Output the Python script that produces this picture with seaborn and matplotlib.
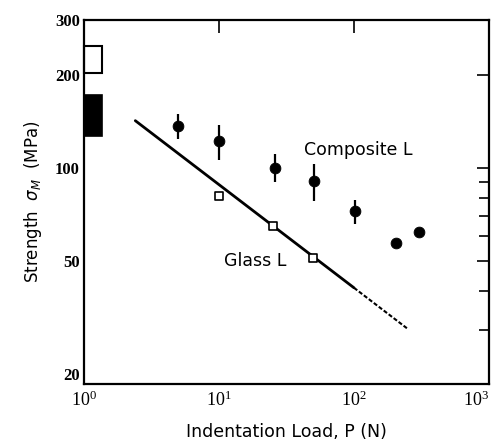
import numpy as np
import pandas as pd
import matplotlib
matplotlib.use("Agg")
import matplotlib.pyplot as plt
from matplotlib.patches import Rectangle
import seaborn as sns

# ---- data ----
comp_load = [5.0, 10.0, 26.0, 51.0, 102.0, 206.0, 305.0]
comp_strength = [136, 122, 100, 90.6, 72.4, 57.1, 62.0]
comp_err_lo = [124, 106, 90, 78, 65.8, np.nan, np.nan]
comp_err_hi = [149, 137, 111, 103, 78.5, np.nan, np.nan]

glass_load = [10.0, 25.0, 50.0]
glass_strength = [81.0, 64.8, 51.0]

fit_load_solid = [2.4, 100.0]
fit_load_dashed = [100.0, 250.0]
fit_coef = 190.0
fit_exp = -1.0 / 3.0

bar_x = [1.0, 1.36]
bar_filled = [127, 172]
bar_open = [202, 247]

ytick_vals = [20, 50, 100, 200, 300]
ytick_labels = ["20", "50", "100", "200", "300"]
yminor_vals = [30, 40, 60, 70, 80, 90]
xtick_vals = [1, 10, 100, 1000]
xtick_labels = [r"$\mathregular{10^0}$", r"$\mathregular{10^1}$",
                r"$\mathregular{10^2}$", r"$\mathregular{10^3}$"]

sns.set_style("white")
plt.rcParams["font.family"] = ["DejaVu Sans"]
plt.rcParams["text.color"] = "black"
plt.rcParams["axes.labelcolor"] = "black"

fig = plt.figure(figsize=(4.92, 4.46), dpi=100)
ax = fig.add_axes([0.1707, 0.139, 0.823, 0.816])
ax.set_xscale("log")
ax.set_yscale("log")
ax.set_xlim(1, 1000)
ax.set_ylim(20, 300)

# fitted glass line
fs = pd.DataFrame({"P": fit_load_solid,
                   "S": [fit_coef * p ** fit_exp for p in fit_load_solid]})
fd = pd.DataFrame({"P": fit_load_dashed,
                   "S": [fit_coef * p ** fit_exp for p in fit_load_dashed]})
sns.lineplot(data=fs, x="P", y="S", ax=ax, color="black", lw=2.0)
sns.lineplot(data=fd, x="P", y="S", ax=ax, color="black", lw=1.5,
             linestyle=(0, (2, 1)))

# composite error bars
lo = np.array(comp_strength) - np.array(comp_err_lo)
hi = np.array(comp_err_hi) - np.array(comp_strength)
ax.errorbar(comp_load, comp_strength, yerr=[lo, hi], fmt="none",
            ecolor="black", elinewidth=1.6, capsize=0)

cdf = pd.DataFrame({"P": comp_load, "S": comp_strength})
sns.scatterplot(data=cdf, x="P", y="S", ax=ax, color="black", s=60,
                edgecolor="black", zorder=5)

gdf = pd.DataFrame({"P": glass_load, "S": glass_strength})
sns.scatterplot(data=gdf, x="P", y="S", ax=ax, marker="s", s=28,
                facecolor="white", edgecolor="black", linewidth=1.2, zorder=5)

# bars at left edge
ax.add_patch(Rectangle((bar_x[0], bar_filled[0]), bar_x[1] - bar_x[0],
                       bar_filled[1] - bar_filled[0], facecolor="black",
                       edgecolor="black", lw=1.2, clip_on=False))
ax.add_patch(Rectangle((bar_x[0], bar_open[0]), bar_x[1] - bar_x[0],
                       bar_open[1] - bar_open[0], facecolor="white",
                       edgecolor="black", lw=1.5, clip_on=False))

ax.text(108, 114, "Composite L", fontsize=12.5, ha="center", va="center",
        color="black")
ax.text(18.4, 50, "Glass L", fontsize=12.5, ha="center", va="center",
        color="black")

# ticks
ax.set_xticks(xtick_vals)
ax.set_xticklabels(xtick_labels, fontfamily="Liberation Serif", fontsize=13)
labs = ax.get_xticklabels()
labs[-1].set_horizontalalignment("right")
ax.xaxis.set_minor_locator(matplotlib.ticker.NullLocator())
ax.set_yticks(ytick_vals)
ax.set_yticklabels(ytick_labels, fontfamily="Liberation Serif", fontsize=12,
                   fontweight="bold")
ax.get_yticklabels()[0].set_verticalalignment("bottom")
ax.set_yticks(yminor_vals, minor=True)
ax.yaxis.set_minor_formatter(matplotlib.ticker.NullFormatter())
ax.tick_params(axis="both", which="both", direction="in", top=True,
               right=True, colors="black")
ax.tick_params(axis="y", which="major", length=9, width=1.2, pad=3)
ax.tick_params(axis="y", which="minor", length=7, width=1.2)
ax.tick_params(axis="x", which="major", length=9, width=1.2, pad=5)

for sp in ax.spines.values():
    sp.set_color("black")
    sp.set_linewidth(1.6)

ax.set_xlabel("Indentation Load, P (N)", fontsize=12.5, labelpad=9,
              color="black")
ax.set_ylabel(r"Strength  $\sigma_M$  (MPa)", fontsize=12, labelpad=8,
              color="black")

fig.savefig("out.png", dpi=100)
